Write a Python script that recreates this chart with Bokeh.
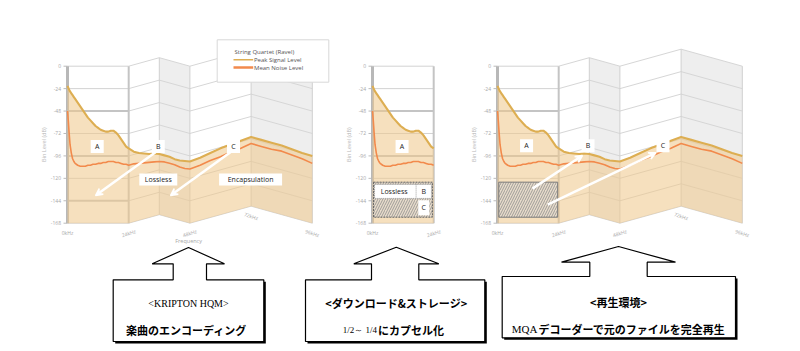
import numpy as np
from bokeh.plotting import figure
from bokeh.models import Range1d, Arrow, VeeHead
from bokeh.core.properties import value
from bokeh.embed import file_html
from bokeh.resources import INLINE

# ---------------- data ----------------
freq_khz = [0, 0.3, 0.6, 1, 1.5, 2, 2.5, 3, 4, 5, 6, 7, 8, 9, 10, 11, 12, 13, 14, 15,
            16, 17, 18, 19, 20, 21, 22, 23, 24, 26, 28, 30, 32, 34, 36, 38, 40, 42, 44,
            46, 48, 52, 56, 60, 64, 68, 72, 76, 80, 84, 88, 92, 96]
peak_db = [-21, -23, -25, -27, -29, -31, -33, -35, -39, -43, -47, -51, -55, -58, -61, -64,
           -66, -68, -69, -70, -70, -69, -69, -71, -74, -78, -82, -86, -88, -93, -96, -98,
           -100, -101, -103, -103, -103, -104, -104, -103, -102, -101, -99, -97, -96, -95,
           -94, -94, -94, -94, -95, -96, -96]
noise_db = [-48, -58, -70, -84, -93, -99, -102, -104, -106, -107, -107, -107, -106, -106,
            -105, -105, -104, -104, -103, -103, -102, -102, -102, -103, -103, -104, -105,
            -105, -106, -106, -107, -108, -109, -110, -111, -110, -110, -110, -111, -111,
            -110, -109, -107, -106, -104, -103, -101, -101, -101, -100, -101, -102, -104]
db_ticks = [0, -24, -48, -72, -96, -120, -144, -168]
db_tick_labels = ["0", "-24", "-48", "-72", "-96", "-120", "-144", "-168"]
khz_ticks = [0, 24, 48, 72, 96]
khz_tick_labels = ["0kHz", "24kHz", "48kHz", "72kHz", "96kHz"]
y_title = "Bin Level (dB)"
x_title = "Frequency"
legend_title = "String Quartet (Ravel)"
series_names = ["Peak Signal Level", "Mean Noise Level"]
stage_titles = ["<KRIPTON HQM>", "<ダウンロード&ストレージ>", "<再生環境>"]

# ---------------- layout / style ----------------
W, H = 800, 351
KX = 2.55          # px per kHz
KY = 0.9345        # px per dB
Y0 = 65.7          # screen y of 0 dB
FOLD_KHZ = [0, 24, 36, 48, 72, 96]
FOLD_DY = [0, 0, -8.5, 0, -17, 0]
PEAK_C = "#ddae52"
NOISE_C = "#f28a4c"
FILL_C = "#f0c88c"
GREY_T = "#a8a8a8"
FONT = value("Open Sans")
JP = value("Noto Sans CJK JP")
SERIF = value("Liberation Serif")

p = figure(width=W, height=H, x_range=Range1d(0, W), y_range=Range1d(H, 0),
           output_backend="svg", toolbar_location=None, min_border=0,
           x_axis_location=None, y_axis_location=None)
p.grid.visible = False
p.outline_line_color = None
p.background_fill_color = "white"

fk = np.array(freq_khz, dtype=float)
pk = np.array(peak_db, dtype=float)
nz = np.array(noise_db, dtype=float)


def X(x0, k):
    return x0 + np.asarray(k, dtype=float) * KX


def Y(db, k=None):
    y = Y0 - np.asarray(db, dtype=float) * KY
    if k is not None:
        y = y + np.interp(np.asarray(k, dtype=float), FOLD_KHZ, FOLD_DY)
    return y


def chart(x0, kmax, with_xtitle):
    knots = [k for k in FOLD_KHZ if k <= kmax]
    # darker faces
    for a, b in [(36, 48), (72, 96)]:
        if b <= kmax:
            p.patch(list(X(x0, [a, b, b, a])),
                    [Y(0, a), Y(0, b), Y(-168, b), Y(-168, a)],
                    fill_color="#eeeeee", line_color=None)
    # horizontal grid
    for db in db_ticks:
        thick = db in (-48, -96, -144)
        p.line(list(X(x0, [0, 24])), list(Y(db, [0, 24])),
               line_color="#c4c4c4" if thick else "#d2d2d2",
               line_width=2 if thick else 1)
        if kmax > 24:
            kk = knots[1:]
            p.line(list(X(x0, kk)), list(Y(db, kk)), line_color="#d6d6d6", line_width=1)
        # left tick
        p.line([x0 - 4, x0], [Y(db), Y(db)], line_color="#bbbbbb", line_width=1)
    # vertical lines
    for k in knots:
        if k == 0:
            lc, lw = "#b8b8b8", 3
        elif k == 24:
            lc, lw = "#c4c4c4", 2
        else:
            lc, lw = "#d0d0d0", 1
        p.line([X(x0, k)] * 2, [Y(0, k), Y(-168, k)], line_color=lc, line_width=lw)
    # fill under the peak level
    m = fk <= kmax
    fx, fp, fn = fk[m], pk[m], nz[m]
    rk = knots[::-1]
    xs = list(X(x0, fx)) + list(X(x0, rk))
    ys = list(Y(fp, fx)) + list(Y(-168, rk))
    p.patch(xs, ys, fill_color=FILL_C, fill_alpha=0.57, line_color=None)
    p.line(list(X(x0, fx)), list(Y(fn, fx)), line_color=NOISE_C, line_width=1.6)
    p.line(list(X(x0, fx)), list(Y(fp, fx)), line_color=PEAK_C, line_width=2.1)
    # y tick labels
    p.text(x=[x0 - 6.5] * len(db_ticks), y=list(Y(db_ticks)), text=db_tick_labels,
           text_font=FONT, text_font_size="5px", text_color=GREY_T,
           text_align="right", text_baseline="middle")
    p.text(x=[x0 - 24], y=[Y(-84)], text=[y_title], angle=np.pi / 2,
           text_font=FONT, text_font_size="5.5px", text_color="#b8b8b8",
           text_align="center", text_baseline="middle")
    # x tick labels
    for k, lab in zip(khz_ticks, khz_tick_labels):
        if k > kmax:
            continue
        ang = 0.0 if k == 0 else (0.3 if k in (24, 48) else -0.3)
        p.text(x=[X(x0, k)], y=[Y(-168, k) + 10], text=[lab], angle=ang,
               text_font=FONT, text_font_size="5px", text_color=GREY_T,
               text_align="center", text_baseline="middle")
    if with_xtitle:
        p.text(x=[X(x0, 47.5)], y=[240], text=[x_title], text_font=FONT,
               text_font_size="5.5px", text_color=GREY_T, text_align="center",
               text_baseline="middle")


def label(x0, k, db, txt, w=13, h=13, size="7px"):
    p.rect(x=[X(x0, k)], y=[Y(db)], width=w, height=h, fill_color="white", line_color=None)
    p.text(x=[X(x0, k)], y=[Y(db)], text=[txt], text_font=FONT, text_font_size=size,
           text_color="#222222", text_align="center", text_baseline="middle")


def arrow(x0, k1, d1, k2, d2):
    p.add_layout(Arrow(end=VeeHead(size=7, line_color="white", fill_color="white", line_width=1.5),
                       x_start=X(x0, k1), y_start=Y(d1), x_end=X(x0, k2), y_end=Y(d2),
                       line_color="white", line_width=2.5))


P1, P2, P3 = 67, 372, 497

chart(P1, 96, True)
chart(P2, 24, False)
chart(P3, 96, False)

# ---- panel 1 annotations
label(P1, 11.65, -86, "A")
label(P1, 35.6, -86, "B")
label(P1, 65.1, -86, "C")
label(P1, 35.6, -121.2, "Lossless", w=38, h=12)
label(P1, 71.8, -121.2, "Encapsulation", w=63, h=12)
arrow(P1, 34.5, -92, 11, -138.4)
arrow(P1, 63.9, -92, 40.4, -138.4)

# ---- panel 2 annotations
label(P2, 11.6, -86, "A")
p.quad(left=[X(P2, 0.4)], right=[X(P2, 23.5)], top=[Y(-124.1)], bottom=[Y(-161.6)],
       fill_color="#e8dccb", hatch_pattern="/", hatch_color="#8c8c8c", hatch_scale=5,
       hatch_weight=0.8, line_color="#666666", line_dash="2 1", line_width=1)
p.quad(left=[X(P2, 0.8)], right=[X(P2, 23.1)], top=[Y(-126.5)], bottom=[Y(-141.5)],
       fill_color="white", line_color="#888888", line_dash="1 1", line_width=0.8)
p.line([X(P2, 17.1)] * 2, [Y(-126.5), Y(-141.5)], line_color="#888888", line_dash="1 1",
       line_width=0.8)
p.text(x=[X(P2, 8.5)], y=[Y(-134)], text=["Lossless"], text_font=FONT, text_font_size="7px",
       text_color="#222222", text_align="center", text_baseline="middle")
p.text(x=[X(P2, 20.1)], y=[Y(-134)], text=["B"], text_font=FONT, text_font_size="7px",
       text_color="#222222", text_align="center", text_baseline="middle")
label(P2, 20.1, -151.5, "C", w=11, h=15)

# ---- panel 3 annotations
p.quad(left=[X(P3, 0.5)], right=[X(P3, 23.6)], top=[Y(-124.1)], bottom=[Y(-161.6)],
       fill_color="#e8dccb", hatch_pattern="/", hatch_color="#8c8c8c", hatch_scale=5,
       hatch_weight=0.8, line_color="#7a7a7a", line_width=1)
label(P3, 11.4, -85, "A")
label(P3, 35.5, -85, "B")
label(P3, 64.9, -85, "C")
arrow(P3, 13.7, -131, 33.3, -95.6)
arrow(P3, 19.7, -148, 62.1, -92.7)

# ---- legend
p.quad(left=[216.7], right=[328.3], top=[39.3], bottom=[81.7], fill_color="white",
       line_color="#d8d8d8", line_width=1)
p.text(x=[234], y=[51.7], text=[legend_title], text_font=FONT, text_font_size="6px",
       text_color="#555555", text_align="left", text_baseline="middle")
for yy, col, lw, name in [(59.3, PEAK_C, 1.5, series_names[0]), (67, NOISE_C, 2.5, series_names[1])]:
    p.line([233, 252.7], [yy, yy], line_color=col, line_width=lw)
    p.text(x=[253.5], y=[yy], text=[name], text_font=FONT, text_font_size="6px",
           text_color="#555555", text_align="left", text_baseline="middle")

# ---- bottom call-outs (arrow + box)
callouts = [
    dict(bl=112.7, br=263.3, bt=279.3, bb=341, sl=172.7, sr=206, hl=151.7, hr=224, hy=263.3, tx=188, ty=247),
    dict(bl=305, br=484.3, bt=279.3, bb=341, sl=371, sr=418.3, hl=353.3, hr=438.3, hy=263.3, tx=395.8, ty=246.7),
    dict(bl=501.7, br=735, bt=276, bb=337.3, sl=589.3, sr=646.7, hl=561, hr=675, hy=261.7, tx=618, ty=246),
]
for c in callouts:
    p.quad(left=[c["bl"] + 2], right=[c["br"] + 2], top=[c["bt"] + 2], bottom=[c["bb"] + 2],
           fill_color="black", line_color=None)
    xs = [c["bl"], c["sl"], c["sl"], c["hl"], c["tx"], c["hr"], c["sr"], c["sr"], c["br"], c["br"], c["bl"]]
    ys = [c["bt"], c["bt"], c["hy"], c["hy"], c["ty"], c["hy"], c["hy"], c["bt"], c["bt"], c["bb"], c["bb"]]
    p.patch(xs, ys, fill_color="white", line_color="black", line_width=1.2)

# titles
p.text(x=[188], y=[302.7], text=[stage_titles[0]], text_font=SERIF, text_font_size="10px",
       text_color="black", text_align="center", text_baseline="middle")
for x, y, t in [(395.8, 302.7, stage_titles[1]), (618, 301, stage_titles[2])]:
    p.text(x=[x], y=[y], text=[t], text_font=JP, text_font_size="11px", text_font_style="bold",
           text_color="black", text_align="center", text_baseline="middle")
# bodies
p.text(x=[186], y=[329.3], text=["楽曲のエンコーディング"], text_font=JP, text_font_size="11px",
       text_font_style="bold", text_color="black", text_align="center", text_baseline="middle")
p.text(x=[376.5], y=[329.5], text=["1/2～ 1/4"], text_font=SERIF, text_font_size="9px",
       text_color="black", text_align="right", text_baseline="middle")
p.text(x=[377.5], y=[329.3], text=["にカプセル化"], text_font=JP, text_font_size="11px",
       text_font_style="bold", text_color="black", text_align="left", text_baseline="middle")
p.text(x=[537], y=[328.5], text=["MQA"], text_font=SERIF, text_font_size="11px",
       text_color="black", text_align="right", text_baseline="middle")
p.text(x=[538], y=[328.3], text=["デコーダーで元のファイルを完全再生"], text_font=JP,
       text_font_size="11px", text_font_style="bold", text_color="black",
       text_align="left", text_baseline="middle")

open("out.html", "w").write(file_html(p, INLINE))
